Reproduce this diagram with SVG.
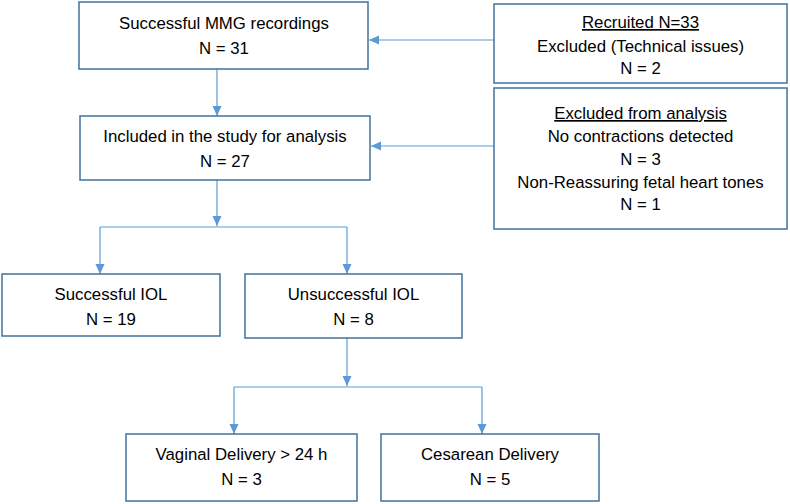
<svg xmlns="http://www.w3.org/2000/svg" width="790" height="504" viewBox="0 0 790 504">
<defs>
<style>
.box{fill:#fff;stroke:#41719C;stroke-width:1.5}
.t{font-family:"Liberation Sans",Arial,sans-serif;font-size:16.8px;fill:#000;text-anchor:middle}
.u{text-decoration:underline}
.c{fill:none;stroke:#5B9BD5;stroke-width:1.2}
</style>
<marker id="ah" markerUnits="userSpaceOnUse" markerWidth="10" markerHeight="10" viewBox="0 0 10 10" refX="10" refY="5" orient="auto">
<path d="M0,0.5 L10,5 L0,9.5 Z" fill="#5B9BD5"/>
</marker>
</defs>
<rect width="790" height="504" fill="#fff"/>
<g id="connectors">
<path class="c" d="M217,69 V116" marker-end="url(#ah)"/>
<path class="c" d="M494,40 H369" marker-end="url(#ah)"/>
<path class="c" d="M494,146 H371" marker-end="url(#ah)"/>
<path class="c" d="M217,180 V226" marker-end="url(#ah)"/>
<path class="c" d="M100,227 H347"/>
<path class="c" d="M100,227 V274" marker-end="url(#ah)"/>
<path class="c" d="M347,227 V274" marker-end="url(#ah)"/>
<path class="c" d="M347,338 V386" marker-end="url(#ah)"/>
<path class="c" d="M234,387 H482"/>
<path class="c" d="M234,387 V434" marker-end="url(#ah)"/>
<path class="c" d="M482,387 V434" marker-end="url(#ah)"/>
</g>
<g id="mmg">
<rect class="box" x="79" y="2" width="289" height="67"/>
<text class="t" x="224" y="29">Successful MMG recordings</text>
<text class="t" x="224" y="54">N = 31</text>
</g>
<g id="included">
<rect class="box" x="80" y="116" width="290" height="64"/>
<text class="t" x="225" y="142">Included in the study for analysis</text>
<text class="t" x="225" y="167">N = 27</text>
</g>
<g id="recruited">
<rect class="box" x="494" y="4" width="293" height="79"/>
<text class="t u" x="640.5" y="28">Recruited N=33</text>
<text class="t" x="640.5" y="52">Excluded (Technical issues)</text>
<text class="t" x="640.5" y="74">N = 2</text>
</g>
<g id="excluded">
<rect class="box" x="494" y="88" width="293" height="141"/>
<text class="t u" x="640.5" y="119">Excluded from analysis</text>
<text class="t" x="640.5" y="142">No contractions detected</text>
<text class="t" x="640.5" y="165">N = 3</text>
<text class="t" x="640.5" y="188">Non-Reassuring fetal heart tones</text>
<text class="t" x="640.5" y="210">N = 1</text>
</g>
<g id="successful">
<rect class="box" x="2" y="274" width="218" height="62"/>
<text class="t" x="111" y="300">Successful IOL</text>
<text class="t" x="111" y="325">N = 19</text>
</g>
<g id="unsuccessful">
<rect class="box" x="245" y="274" width="217" height="64"/>
<text class="t" x="353.5" y="300">Unsuccessful IOL</text>
<text class="t" x="353.5" y="325">N = 8</text>
</g>
<g id="vaginal">
<rect class="box" x="126" y="434" width="231" height="67"/>
<text class="t" x="241.5" y="460">Vaginal Delivery &gt; 24 h</text>
<text class="t" x="241.5" y="485">N = 3</text>
</g>
<g id="cesarean">
<rect class="box" x="381" y="434" width="218" height="67"/>
<text class="t" x="490" y="460">Cesarean Delivery</text>
<text class="t" x="490" y="485">N = 5</text>
</g>
</svg>
